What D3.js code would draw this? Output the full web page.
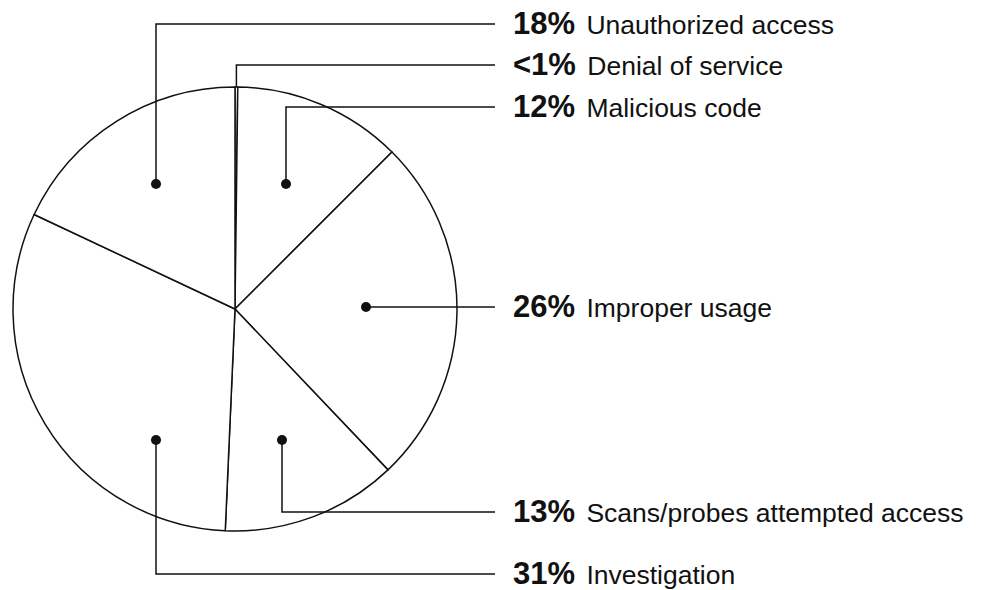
<!DOCTYPE html>
<html>
<head>
<meta charset="utf-8">
<script src="https://cdn.jsdelivr.net/npm/d3@7"></script>
<style>
  body { margin: 0; background: #fff; }
  svg { display: block; }
  text { font-family: "Liberation Sans", Arial, Helvetica, sans-serif; fill: #111; }
</style>
</head>
<body>
<div class="chart"></div>
<script>
// slices in drawing order, clockwise from 12 o'clock
var categories = ['Denial of service', 'Malicious code', 'Improper usage',
  'Scans/probes attempted access', 'Investigation', 'Unauthorized access']
var shares = [0.2, 12.3, 25.4, 12.8, 31.3, 18.0]
var shareLabels = ['<1%', '12%', '26%', '13%', '31%', '18%']

document.addEventListener('DOMContentLoaded', () => {
  var width = 982
  var height = 590
  var cx = 235, cy = 309, radius = 222

  // where each label's leader starts (offset from pie centre) and the row it ends on
  // null dot means the leader starts on the rim
  var layout = [
    { dot: null, row: 65 },
    { dot: [51, -125], row: 107 },
    { dot: [131, -2], row: null },
    { dot: [47, 131], row: 512 },
    { dot: [-79, 131], row: 574 },
    { dot: [-79, -125], row: 24 }
  ]
  var lineEnd = 495
  var textX = 513

  var svg = d3.select('.chart').append('svg')
    .attr('width', width)
    .attr('height', height)

  var pie = d3.pie().sort(null).value(d => d)
  var arcs = pie(shares)

  var arc = d3.arc().innerRadius(0).outerRadius(radius)

  var g = svg.append('g')
    .attr('transform', 'translate(' + cx + ',' + cy + ')')

  g.selectAll('path.slice')
    .data(arcs)
    .enter().append('path')
    .attr('class', 'slice')
    .attr('d', arc)
    .attr('fill', '#fff')
    .attr('stroke', '#111')
    .attr('stroke-width', 1.5)
    .attr('stroke-linejoin', 'round')

  // leaders
  arcs.forEach((a, i) => {
    var L = layout[i]
    var sx, sy
    if (L.dot) {
      sx = L.dot[0]; sy = L.dot[1]
    } else {
      var mid = (a.startAngle + a.endAngle) / 2
      sx = Math.sin(mid) * radius
      sy = -Math.cos(mid) * radius
    }
    var rowY = L.row === null ? sy : L.row - cy
    var pts = [[sx, sy], [sx, rowY], [lineEnd - cx, rowY]]
    g.append('path')
      .attr('d', d3.line()(pts))
      .attr('fill', 'none')
      .attr('stroke', '#111')
      .attr('stroke-width', 1.5)

    if (L.dot) {
      g.append('circle')
        .attr('cx', sx)
        .attr('cy', sy)
        .attr('r', 5)
        .attr('fill', '#111')
    }

    var t = g.append('text')
      .attr('x', textX - cx)
      .attr('y', rowY)
      .attr('dy', '0.36em')
      .style('font-size', '26.5px')
    t.append('tspan')
      .style('font-weight', 'bold')
      .style('font-size', '31px')
      .text(shareLabels[i])
    t.append('tspan')
      .attr('dx', 4)
      .text(' ' + categories[i])
  })
})
</script>
</body>
</html>
